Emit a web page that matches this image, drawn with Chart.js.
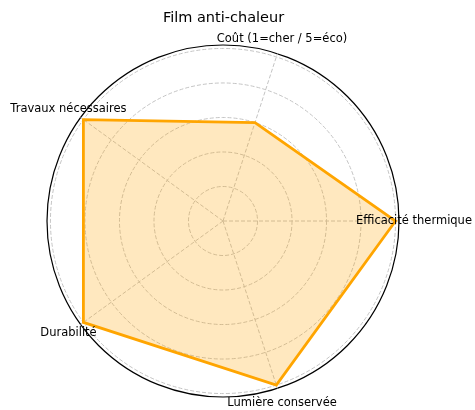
<!DOCTYPE html>
<html>
<head>
<meta charset="utf-8">
<script src="https://cdn.jsdelivr.net/npm/chart.js@4/dist/chart.umd.min.js"></script>
<style>
  body { margin: 0; background: #fff; }
</style>
</head>
<body>
<canvas id="radar" width="475" height="410"></canvas>
<script>
// critères, dans l'ordre matplotlib (anti-horaire depuis la droite)
const criteres = ['Efficacité thermique', 'Coût (1=cher / 5=éco)', 'Travaux nécessaires', 'Durabilité', 'Lumière conservée'];
const notes = [5, 3, 5, 5, 5];
const rTicks = [1, 2, 3, 4, 5];
const rMax = 5.1;
const titre = 'Film anti-chaleur';

// Chart.js tourne dans le sens horaire : on garde le 1er puis on inverse le reste
function ordreHoraire(arr) {
  return [arr[0]].concat(arr.slice(1).reverse());
}

const labelsPlugin = {
  id: 'axisLabels',
  afterDraw(chart) {
    const scale = chart.scales.r;
    const ctx = chart.ctx;
    ctx.save();
    ctx.font = '11.5px "DejaVu Sans"';
    ctx.fillStyle = '#000';
    ctx.textAlign = 'center';
    ctx.textBaseline = 'middle';
    chart.data.labels.forEach((lab, i) => {
      const p = scale.getPointPosition(i, scale.drawingArea + 15);
      ctx.fillText(lab, p.x, p.y);
    });
    ctx.restore();
  }
};

function initChart() {
  const ctx = document.getElementById('radar');
  new Chart(ctx, {
    type: 'radar',
    data: {
      labels: ordreHoraire(criteres),
      datasets: [{
        label: titre,
        data: ordreHoraire(notes),
        fill: true,
        backgroundColor: 'rgba(255,165,0,0.25)',
        borderColor: 'orange',
        borderWidth: 2.8,
        borderJoinStyle: 'miter',
        pointRadius: 0,
        pointHoverRadius: 0
      }]
    },
    options: {
      responsive: false,
      animation: false,
      layout: { padding: { left: 0, right: 28, top: 0, bottom: 12 } },
      plugins: {
        legend: { display: false },
        tooltip: { enabled: false },
        title: {
          display: true,
          text: titre,
          fullSize: false,
          color: '#000',
          font: { family: 'DejaVu Sans', size: 14.5, weight: 'normal', lineHeight: 1.2 },
          padding: { top: 9.4, bottom: 18.3 }
        }
      },
      scales: {
        r: {
          min: 0,
          max: rMax,
          startAngle: 90,
          afterBuildTicks: (scale) => {
            scale.ticks = [0].concat(rTicks, [rMax]).map(v => ({ value: v }));
          },
          ticks: { display: false },
          pointLabels: { display: false },
          grid: {
            circular: true,
            color: (c) => c.tick && c.tick.value === rMax ? '#000' : '#c4c4c4',
            lineWidth: (c) => c.tick && c.tick.value === rMax ? 1.2 : 1
          },
          border: {
            dash: (c) => c.tick && c.tick.value === rMax ? [] : [4, 2]
          },
          angleLines: {
            color: '#c4c4c4',
            lineWidth: 1,
            borderDash: [4, 2]
          }
        }
      }
    },
    plugins: [labelsPlugin]
  });
}

window.onload = initChart;
</script>
</body>
</html>
